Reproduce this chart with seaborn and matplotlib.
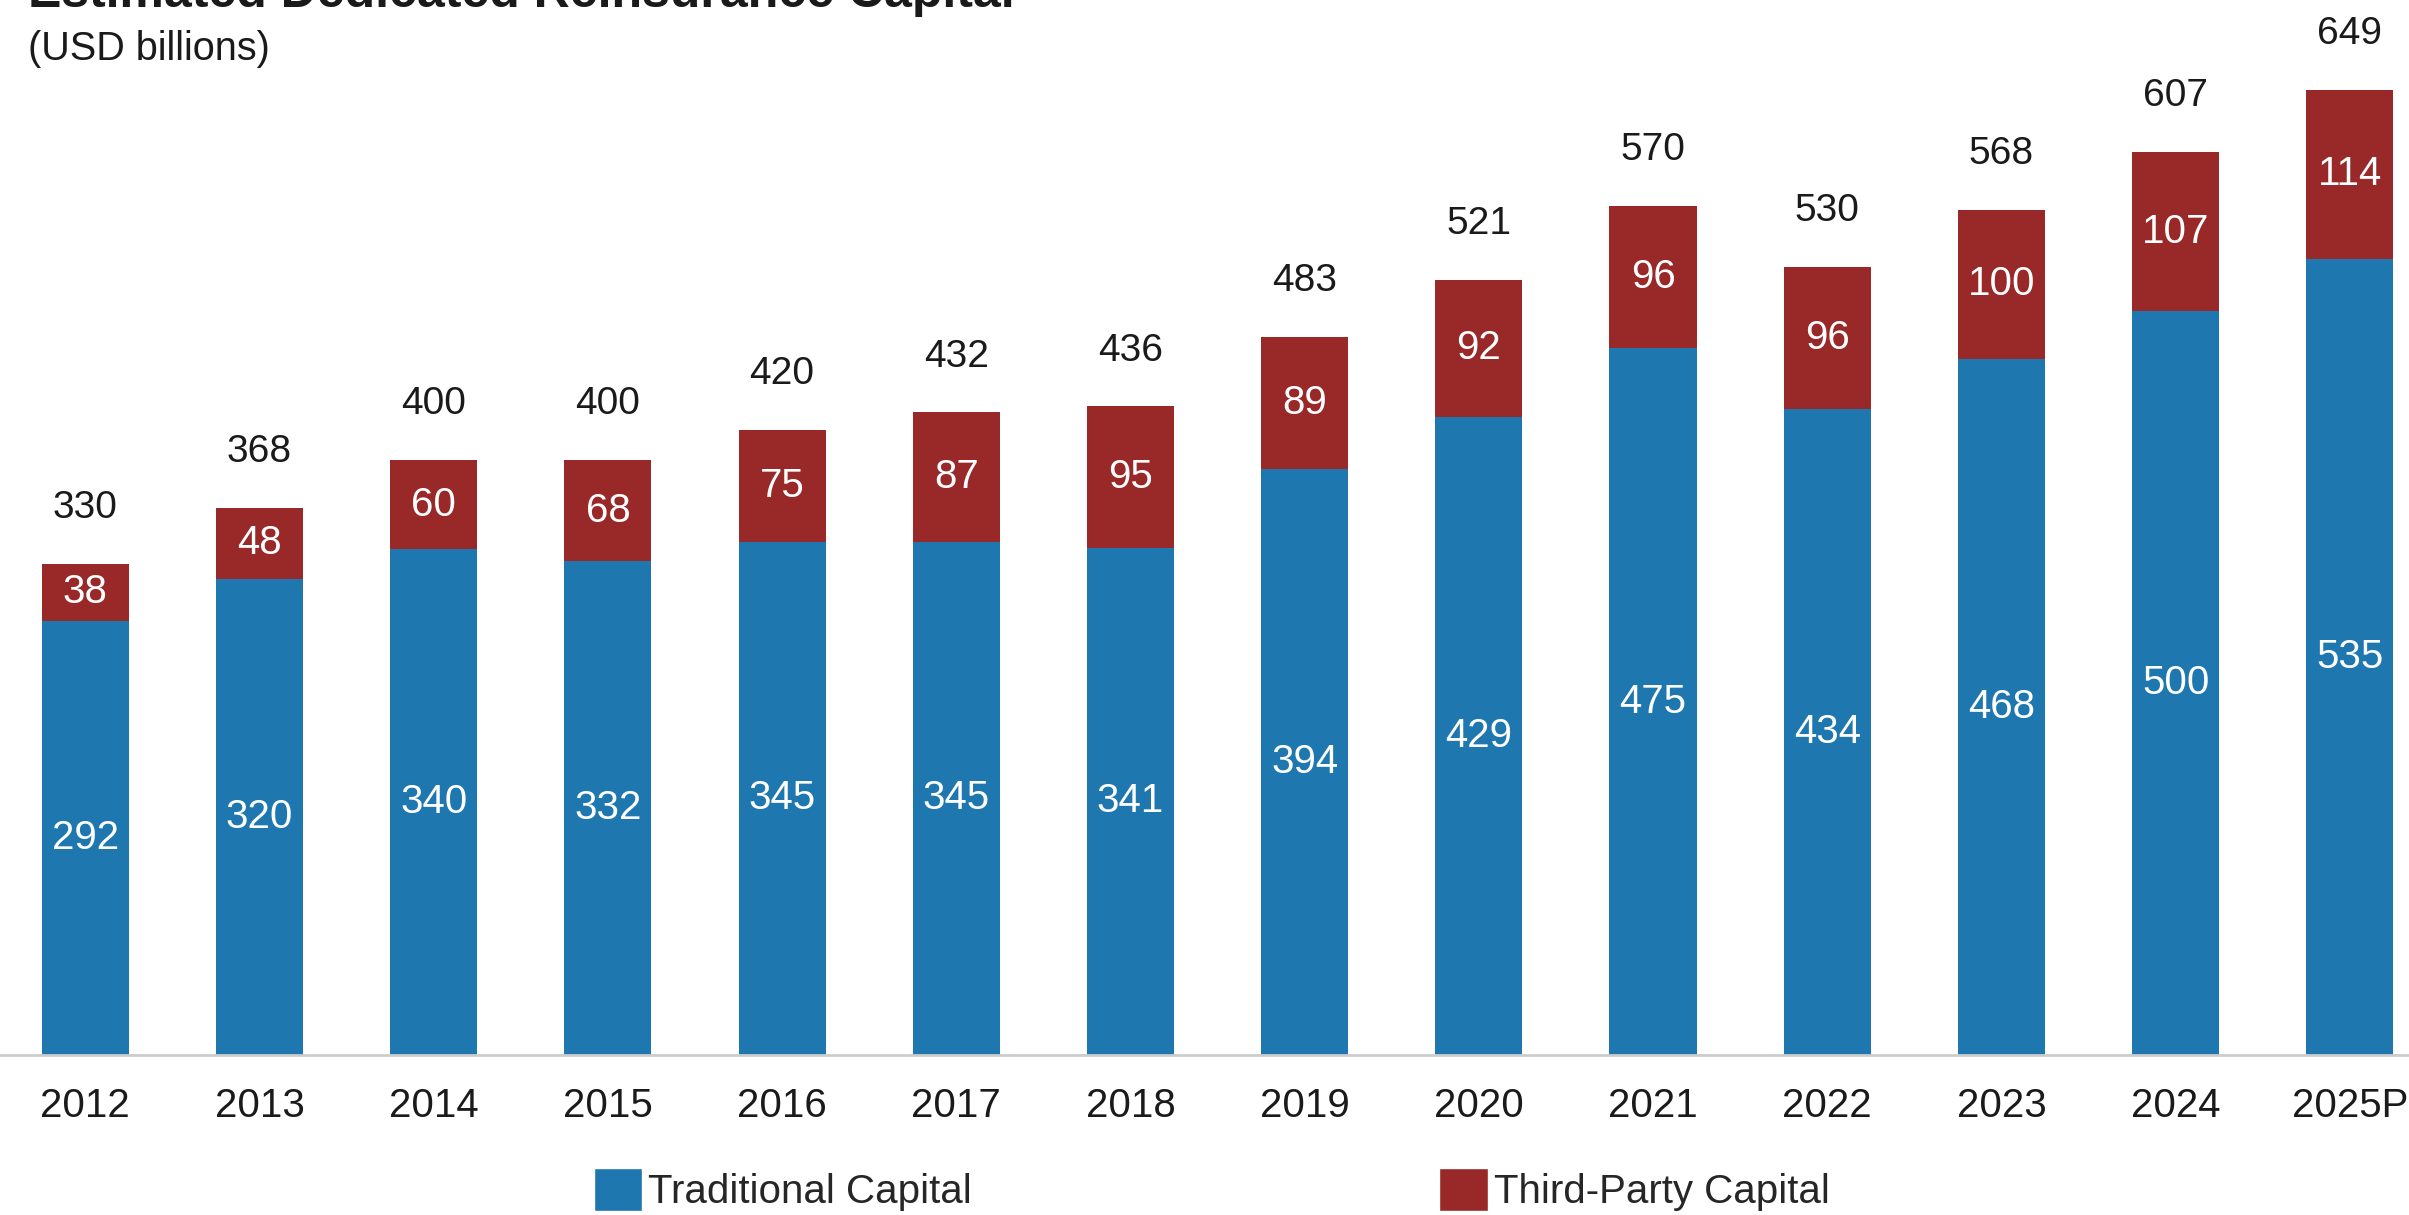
import matplotlib
matplotlib.use("Agg")
import matplotlib.pyplot as plt
import seaborn as sns
import pandas as pd
from matplotlib.patches import Patch

# Data
years = ["2012", "2013", "2014", "2015", "2016", "2017", "2018",
         "2019", "2020", "2021", "2022", "2023", "2024", "2025P"]
traditional = [292, 320, 340, 332, 345, 345, 341, 394, 429, 475, 434, 468, 500, 535]
third_party = [38, 48, 60, 68, 75, 87, 95, 89, 92, 96, 96, 100, 107, 114]
totals = [330, 368, 400, 400, 420, 432, 436, 483, 521, 570, 530, 568, 607, 649]

blue = "#1f77b0"
red = "#992828"

df = pd.DataFrame({"year": years, "traditional": traditional,
                   "third": third_party, "total": totals})
df["stack"] = df["traditional"] + df["third"]

sns.set_style("white")
plt.rcParams["font.family"] = ["Liberation Sans", "DejaVu Sans"]

fig = plt.figure(figsize=(24.09, 12.15), dpi=100)
ax = fig.add_axes([0, 0.1317, 1, 0.857])

# stacked bars: full stack in red, traditional in blue over it
sns.barplot(data=df, x="year", y="stack", color=red, width=0.5,
            saturation=1, ax=ax, linewidth=0)
sns.barplot(data=df, x="year", y="traditional", color=blue, width=0.5,
            saturation=1, ax=ax, linewidth=0)

ax.set_xlim(-0.49, 13.34)
ax.set_ylim(0, 700)

for i in range(len(df)):
    t = df["traditional"][i]
    s = df["stack"][i]
    ax.text(i, t / 2, str(t), ha="center", va="center", color="white", fontsize=29)
    ax.text(i, t + df["third"][i] / 2, str(df["third"][i]), ha="center",
            va="center", color="white", fontsize=29)
    ax.annotate(str(df["total"][i]), (i, s), xytext=(0, 33),
                textcoords="offset points", ha="center", va="baseline",
                fontsize=28, color="#1a1a1a")

ax.set_xlabel("")
ax.set_ylabel("")
ax.set_yticks([])
ax.tick_params(axis="x", length=0, pad=23, labelsize=29, labelcolor="#1a1a1a")
for side in ["top", "left", "right"]:
    ax.spines[side].set_visible(False)
ax.spines["bottom"].set_color("#cccccc")
ax.spines["bottom"].set_linewidth(2)

# title (partly cut off at the top in the source) and subtitle
fig.text(0.0116, 0.9945, "Estimated Dedicated Reinsurance Capital",
         fontsize=36, fontweight="bold", va="baseline", color="#1a1a1a")
fig.text(0.0116, 0.951, "(USD billions)", fontsize=28.5, va="baseline", color="#1a1a1a")

handles = [Patch(facecolor=blue, label="Traditional Capital"),
           Patch(facecolor=red, label="Third-Party Capital")]
fig.legend(handles=handles, loc="center", bbox_to_anchor=(0.503, 0.021),
           ncol=2, frameon=False, fontsize=29, handlelength=1.2,
           handleheight=1.3, handletextpad=0.15, columnspacing=11.6,
           borderaxespad=0)

fig.savefig("out.png", dpi=100)
